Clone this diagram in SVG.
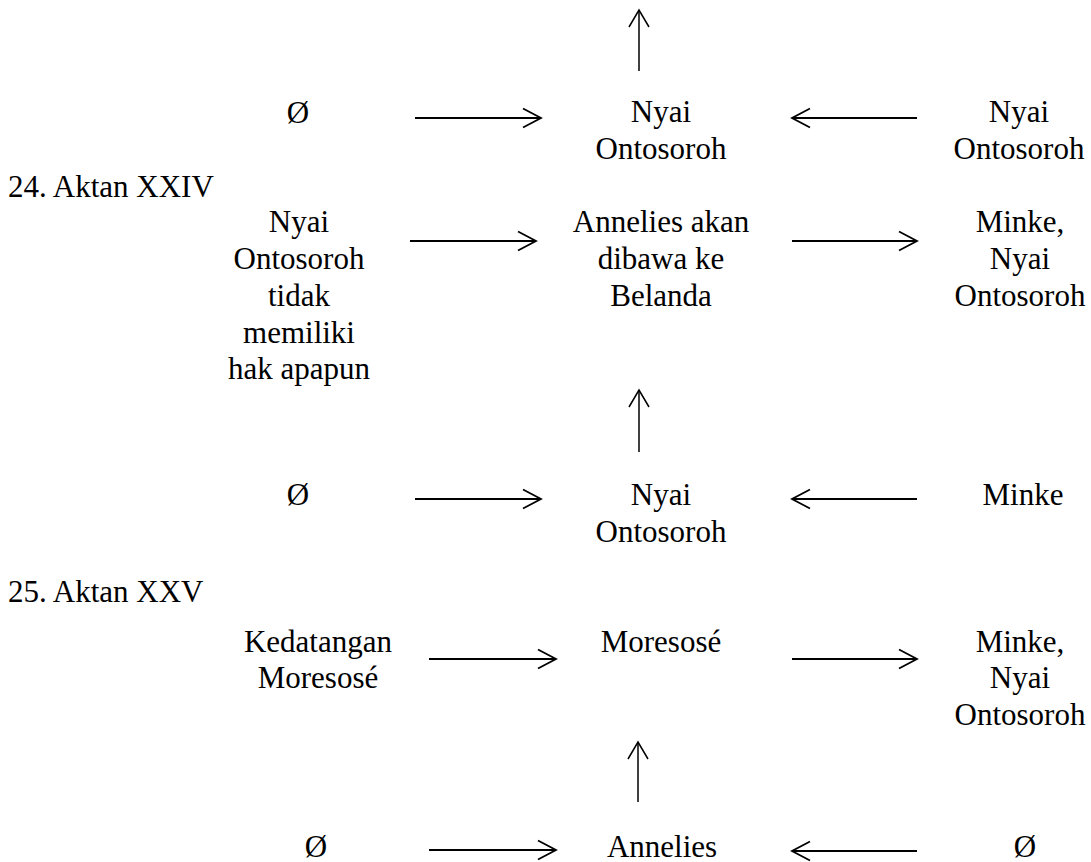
<svg xmlns="http://www.w3.org/2000/svg" width="1091" height="862" viewBox="0 0 1091 862">
<style>
text{font-family:"Liberation Serif","Times New Roman",serif;font-size:31px;fill:#000}
.c{text-anchor:middle}
.h{stroke:#000;stroke-width:1.9;fill:none;marker-end:url(#ah)}
.v{stroke:#000;stroke-width:1.5;fill:none;marker-end:url(#av)}
</style>
<defs>
<marker id="ah" markerUnits="userSpaceOnUse" orient="auto" markerWidth="24" markerHeight="24" refX="20" refY="12" viewBox="0 0 24 24" overflow="visible">
<path d="M2,2.5 L20,12 L2,21.5" fill="none" stroke="#000" stroke-width="1.8"/>
</marker>
<marker id="av" markerUnits="userSpaceOnUse" orient="auto" markerWidth="24" markerHeight="24" refX="20" refY="12" viewBox="0 0 24 24" overflow="visible">
<path d="M3,2 L20,12 L3,22" fill="none" stroke="#000" stroke-width="1.5"/>
</marker>
</defs>
<rect width="1091" height="862" fill="#fff"/>
<g id="connectors">
<path class="v" d="M639,71 L639,10"/>
<path class="h" d="M415,118 L541,118"/>
<path class="h" d="M917,118 L792,118"/>
<path class="h" d="M410,241 L536,241"/>
<path class="h" d="M792,241 L917,241"/>
<path class="v" d="M639,452 L639,390"/>
<path class="h" d="M415,499 L541,499"/>
<path class="h" d="M917,499 L792,499"/>
<path class="h" d="M429,659 L556,659"/>
<path class="h" d="M792,659 L917,659"/>
<path class="v" d="M638,802 L638,742"/>
<path class="h" d="M429,850 L556,850"/>
<path class="h" d="M917,851 L792,851"/>
</g>
<g id="label24"><text x="8" y="197">24. Aktan XXIV</text></g>
<g id="label25"><text x="8" y="602">25. Aktan XXV</text></g>
<g id="r1-left"><text class="c" x="298" y="123">Ø</text></g>
<g id="r1-center"><text class="c" x="661" y="122">Nyai</text><text class="c" x="661" y="159">Ontosoroh</text></g>
<g id="r1-right"><text class="c" x="1019" y="122">Nyai</text><text class="c" x="1019" y="159">Ontosoroh</text></g>
<g id="r2-left"><text class="c" x="299" y="232">Nyai</text><text class="c" x="299" y="269">Ontosoroh</text><text class="c" x="299" y="306">tidak</text><text class="c" x="299" y="343">memiliki</text><text class="c" x="299" y="379">hak apapun</text></g>
<g id="r2-center"><text class="c" x="661" y="232">Annelies akan</text><text class="c" x="661" y="269">dibawa ke</text><text class="c" x="661" y="306">Belanda</text></g>
<g id="r2-right"><text class="c" x="1020" y="232">Minke,</text><text class="c" x="1020" y="269">Nyai</text><text class="c" x="1020" y="306">Ontosoroh</text></g>
<g id="r3-left"><text class="c" x="298" y="505">Ø</text></g>
<g id="r3-center"><text class="c" x="661" y="505">Nyai</text><text class="c" x="661" y="542">Ontosoroh</text></g>
<g id="r3-right"><text class="c" x="1023" y="505">Minke</text></g>
<g id="r4-left"><text class="c" x="318" y="652">Kedatangan</text><text class="c" x="318" y="688">Moresosé</text></g>
<g id="r4-center"><text class="c" x="661" y="652">Moresosé</text></g>
<g id="r4-right"><text class="c" x="1020" y="652">Minke,</text><text class="c" x="1020" y="688">Nyai</text><text class="c" x="1020" y="725">Ontosoroh</text></g>
<g id="r5-left"><text class="c" x="316" y="857">Ø</text></g>
<g id="r5-center"><text class="c" x="662" y="857">Annelies</text></g>
<g id="r5-right"><text class="c" x="1025" y="857">Ø</text></g>
</svg>
